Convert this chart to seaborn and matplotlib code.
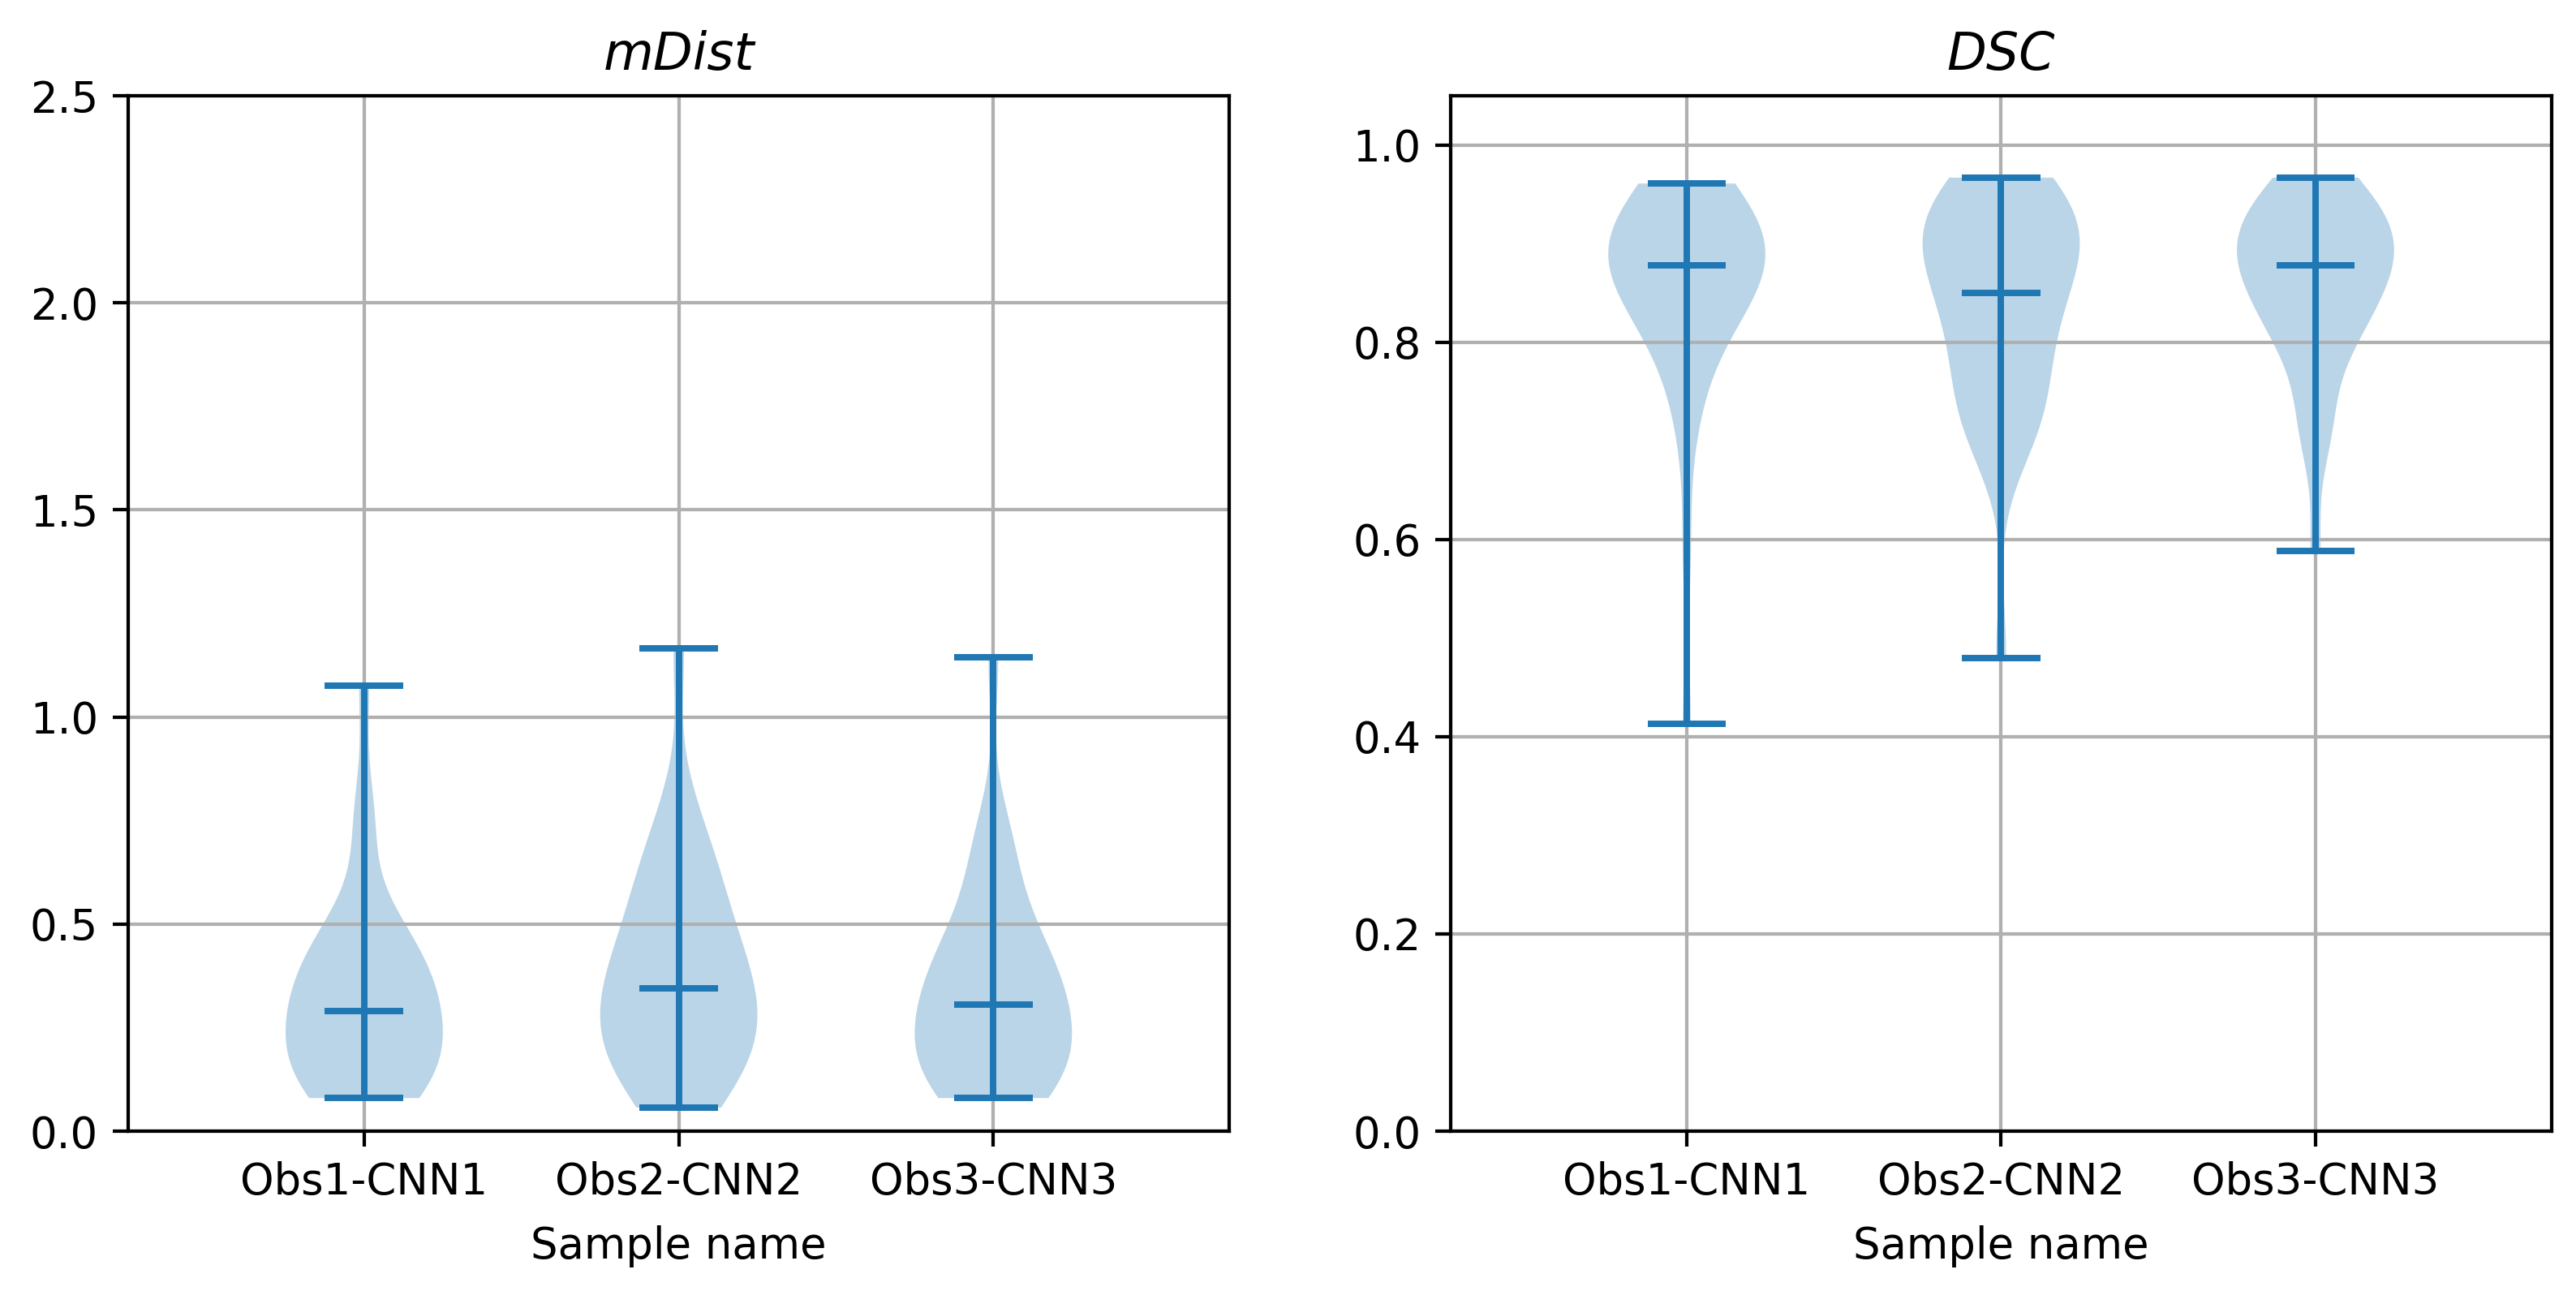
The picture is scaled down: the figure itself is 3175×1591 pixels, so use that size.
import numpy as np
import pandas as pd
import matplotlib
matplotlib.use('Agg')
import matplotlib.pyplot as plt
import seaborn as sns

# ---- data ----
samples = ["Obs1-CNN1", "Obs2-CNN2", "Obs3-CNN3"]

mdist_obs1 = [0.080, 0.080, 0.080, 0.095, 0.110, 0.125, 0.140, 0.155, 0.170, 0.186, 0.202,
              0.219, 0.236, 0.253, 0.271, 0.290, 0.305, 0.321, 0.337, 0.354, 0.371, 0.389,
              0.408, 0.428, 0.448, 0.470, 0.494, 0.521, 0.734, 0.763, 1.076]
mdist_obs2 = [0.057, 0.079, 0.101, 0.122, 0.143, 0.163, 0.182, 0.201, 0.219, 0.237, 0.255,
              0.272, 0.289, 0.307, 0.325, 0.344, 0.362, 0.381, 0.402, 0.425, 0.449, 0.477,
              0.507, 0.541, 0.576, 0.609, 0.643, 0.677, 0.714, 0.810, 1.166]
mdist_obs3 = [0.080, 0.080, 0.093, 0.106, 0.119, 0.132, 0.146, 0.160, 0.175, 0.190, 0.207,
              0.224, 0.242, 0.262, 0.283, 0.306, 0.320, 0.336, 0.352, 0.370, 0.389, 0.409,
              0.431, 0.454, 0.480, 0.509, 0.577, 0.662, 0.693, 0.724, 1.144]

dsc_obs1 = [0.413, 0.592, 0.720, 0.737, 0.789, 0.803, 0.815, 0.826, 0.837, 0.846, 0.855,
            0.863, 0.871, 0.878, 0.878, 0.878, 0.878, 0.884, 0.890, 0.896, 0.901, 0.907,
            0.912, 0.917, 0.923, 0.929, 0.935, 0.941, 0.947, 0.954, 0.961]
dsc_obs2 = [0.480, 0.692, 0.704, 0.715, 0.726, 0.737, 0.748, 0.760, 0.773, 0.796, 0.812,
            0.824, 0.834, 0.843, 0.850, 0.850, 0.875, 0.885, 0.893, 0.900, 0.906, 0.912,
            0.917, 0.922, 0.926, 0.932, 0.937, 0.944, 0.951, 0.958, 0.967]
dsc_obs3 = [0.588, 0.703, 0.714, 0.727, 0.782, 0.794, 0.805, 0.815, 0.824, 0.833, 0.841,
            0.849, 0.857, 0.864, 0.871, 0.878, 0.883, 0.888, 0.893, 0.898, 0.903, 0.908,
            0.914, 0.920, 0.926, 0.932, 0.939, 0.946, 0.953, 0.960, 0.967]

panel_titles = ["mDist", "DSC"]
panel_data = [[mdist_obs1, mdist_obs2, mdist_obs3],
              [dsc_obs1, dsc_obs2, dsc_obs3]]
panel_ylims = [(0, 2.5), (0, 1.05)]

plt.rcParams['font.family'] = ['DejaVu Sans']
plt.rcParams['font.size'] = 10

BLUE = '#1f77b4'
DPI = 381

fig = plt.figure(figsize=(3175 / DPI, 1591 / DPI), dpi=DPI)
rects = [[0.0498, 0.1238, 0.4274, 0.8020], [0.5633, 0.1238, 0.4271, 0.8020]]

for rect, title, groups, ylim in zip(rects, panel_titles, panel_data, panel_ylims):
    ax = fig.add_axes(rect)
    df = pd.DataFrame({
        "Sample name": np.repeat(samples, [len(g) for g in groups]),
        "value": np.concatenate([np.asarray(g, float) for g in groups]),
    })
    sns.violinplot(data=df, x="Sample name", y="value", order=samples, ax=ax,
                   inner=None, cut=0, density_norm="width", width=0.5,
                   color=BLUE, saturation=1, linewidth=0)
    for coll in ax.collections:
        coll.set_alpha(0.3)
        coll.set_edgecolor('none')

    pos = np.arange(len(samples))
    mins = [np.min(g) for g in groups]
    maxs = [np.max(g) for g in groups]
    meds = [np.median(g) for g in groups]
    ax.vlines(pos, mins, maxs, color=BLUE, lw=1.5, zorder=3)
    for vals in (mins, maxs, meds):
        ax.hlines(vals, pos - 0.125, pos + 0.125, color=BLUE, lw=1.5, zorder=3)

    ax.set_xlim(-0.75, 2.75)
    ax.set_ylim(*ylim)
    ax.set_xticks(pos)
    ax.set_xticklabels(samples)
    ax.set_xlabel("Sample name", labelpad=5)
    ax.set_ylabel("")
    ax.set_title(title, fontstyle='italic')
    ax.grid(True, color='#b0b0b0', linewidth=0.8)
    for s in ax.spines.values():
        s.set_visible(True)
        s.set_color('black')
        s.set_linewidth(0.8)

fig.savefig('out.png', dpi=DPI)
